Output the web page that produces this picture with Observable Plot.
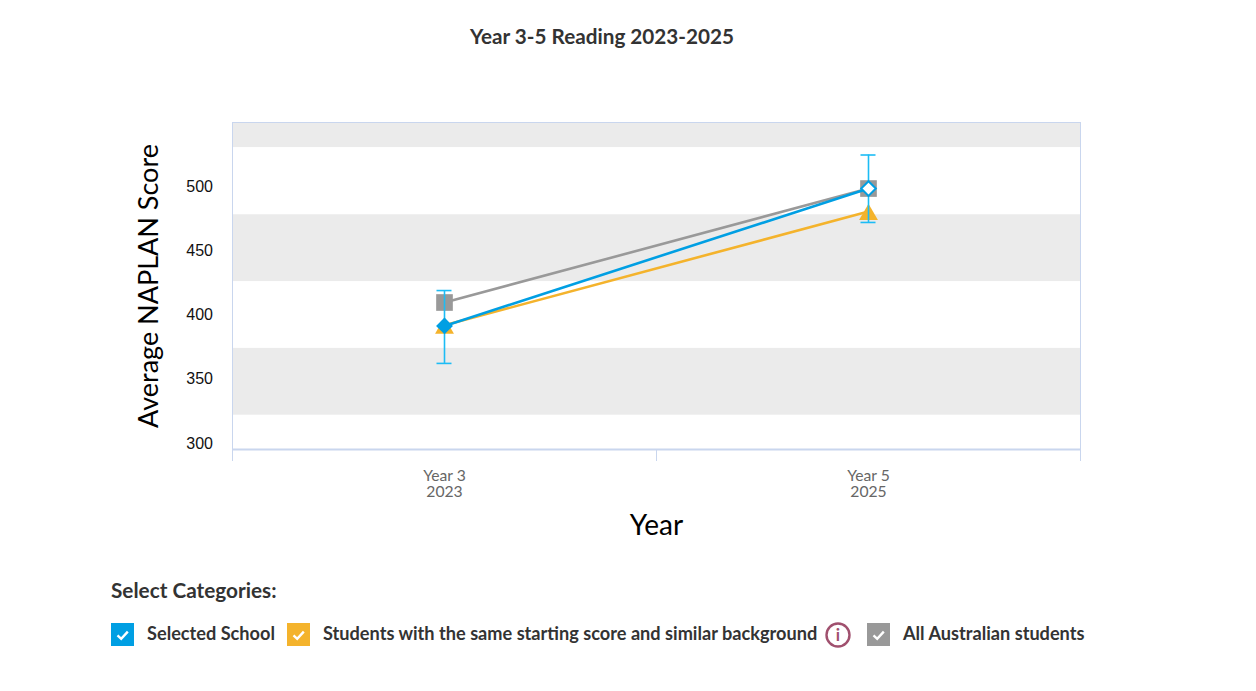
<!DOCTYPE html>
<html>
<head>
<meta charset="utf-8">
<script src="https://cdn.jsdelivr.net/npm/d3@7"></script>
<script src="https://cdn.jsdelivr.net/npm/@observablehq/plot@0.6"></script>
<style>
html,body{margin:0;padding:0;background:#fff;width:1256px;height:691px;overflow:hidden;font-family:Lato,sans-serif;}
#wrap{position:relative;width:1256px;height:691px;}
#title{position:absolute;left:0;width:1204px;top:23px;text-align:center;font:700 20.7px Lato;color:#333;line-height:26px;}
#chart{position:absolute;left:-0.5px;top:71.6px;}
#chart svg{display:block;}
#sel{position:absolute;left:111px;top:577px;font:700 20.75px Lato;color:#333;line-height:26px;}
.it{position:absolute;top:621.4px;height:24px;font:700 18.16px/24px Lato;color:#333;white-space:nowrap;}
.cb{position:absolute;top:623px;width:23px;height:23px;}
.cb svg,#info svg{display:block;}
#info{position:absolute;left:825px;top:622px;width:26px;height:26px;}
</style>
</head>
<body>
<div id="wrap">
<div id="title">Year 3-5 Reading 2023-2025</div>
<div id="chart"></div>
<div id="sel">Select Categories:</div>
<div id="legend"></div>
</div>
<script>
const yearLabels = ["Year 3\n2023", "Year 5\n2025"];
const xSlots = [0.5, 1.5];
const schoolScores = [391.5, 498.4];
const schoolLow = [362.3, 472];
const schoolHigh = [419, 524.5];
const similarScores = [392, 480.5];
const australiaScores = [409.7, 498.4];
const bandEdges = [[322, 374], [426, 478], [530.3, 549.8]];
const yTicks = [300, 350, 400, 450, 500];
const xBoundaries = [0, 1, 2];
const capHalf = 0.0177;

const blue = "#009fe3", orange = "#f4b32c", grey = "#999999", errColor = "#1cbcf5";
const school = xSlots.map((x, i) => ({x, y: schoolScores[i], low: schoolLow[i], high: schoolHigh[i]}));
const similar = xSlots.map((x, i) => ({x, y: similarScores[i]}));
const australia = xSlots.map((x, i) => ({x, y: australiaScores[i]}));
const bands = bandEdges.map(([lo, hi]) => ({lo, hi}));

const chart = Plot.plot({
  width: 1256, height: 480,
  marginLeft: 232, marginRight: 176, marginTop: 50, marginBottom: 103,
  style: {fontFamily: "Lato", background: "transparent"},
  x: {type: "linear", domain: [0, 2]},
  y: {type: "linear", domain: [295.3, 549.8]},
  marks: [
    Plot.rect(bands, {y1: "lo", y2: "hi", fill: "#ebebeb"}),
    Plot.ruleX([0, 2], {stroke: "#c9d6ee", strokeWidth: 1}),
    Plot.ruleY([549.8], {stroke: "#c9d6ee", strokeWidth: 1}),
    Plot.ruleY([295.3], {stroke: "#c9d6ee", strokeWidth: 2}),
    Plot.axisX(xBoundaries, {tickSize: 12, stroke: "#c9d6ee", tickFormat: () => "", label: null}),
    Plot.axisX(xSlots, {tickSize: 0, tickPadding: 20, tickFormat: d => yearLabels[xSlots.indexOf(d)], label: null, fontSize: 15.7, fill: "#666", lineHeight: 1.03}),
    Plot.axisY(yTicks, {tickSize: 0, tickPadding: 19.5, fontSize: 16, fill: "#111", fontFamily: "Liberation Sans", label: null}),
    Plot.text(["Average NAPLAN Score"], {frameAnchor: "left", textAnchor: "middle", dx: -83, rotate: -90, fontSize: 27, fill: "#000"}),
    Plot.text(["Year"], {frameAnchor: "bottom", dy: 85, fontSize: 28, fill: "#000"}),
    Plot.line(australia, {x: "x", y: "y", stroke: grey, strokeWidth: 2.6}),
    Plot.dot(australia, {x: "x", y: "y", symbol: "square", r: 9.4, fill: grey}),
    Plot.line(similar, {x: "x", y: "y", stroke: orange, strokeWidth: 2.6}),
    Plot.dot(similar, {x: "x", y: "y", symbol: "triangle", r: 7, dy: 3, fill: orange}),
    Plot.ruleX(school, {x: "x", y1: "low", y2: "high", stroke: errColor, strokeWidth: 1.6}),
    Plot.ruleY(school, {y: "low", x1: d => d.x - capHalf, x2: d => d.x + capHalf, stroke: errColor, strokeWidth: 1.6}),
    Plot.ruleY(school, {y: "high", x1: d => d.x - capHalf, x2: d => d.x + capHalf, stroke: errColor, strokeWidth: 1.6}),
    Plot.line(school, {x: "x", y: "y", stroke: blue, strokeWidth: 2.6}),
    Plot.dot(school.slice(0, 1), {x: "x", y: "y", symbol: "diamond2", r: 7.6, fill: blue}),
    Plot.dot(school.slice(1), {x: "x", y: "y", symbol: "diamond2", r: 6.6, fill: "#fff", stroke: blue, strokeWidth: 2})
  ]
});
document.getElementById("chart").append(chart);

const check = c => `<svg width="23" height="23"><rect width="23" height="23" fill="${c}"/><path d="M6.5 12.4 L10.2 15.8 L16.8 8.6" fill="none" stroke="#fff" stroke-width="2.4"/></svg>`;
const legend = [
  {box: 111, text: 147, label: "Selected School", c: blue},
  {box: 287, text: 323, label: "Students with the same starting score and similar background", c: orange},
  {box: 867, text: 903, label: "All Australian students", c: grey}
];
document.getElementById("legend").innerHTML = legend.map(d =>
  `<div class="cb" style="left:${d.box}px">${check(d.c)}</div><div class="it" style="left:${d.text}px">${d.label}</div>`
).join("") + `<div id="info"><svg width="26" height="26"><circle cx="13" cy="13" r="11.5" fill="none" stroke="#a0506e" stroke-width="2.4"/><text x="13" y="19" text-anchor="middle" font-family="Lato" font-weight="700" font-size="17" fill="#a0506e">i</text></svg></div>`;
</script>
</body>
</html>
